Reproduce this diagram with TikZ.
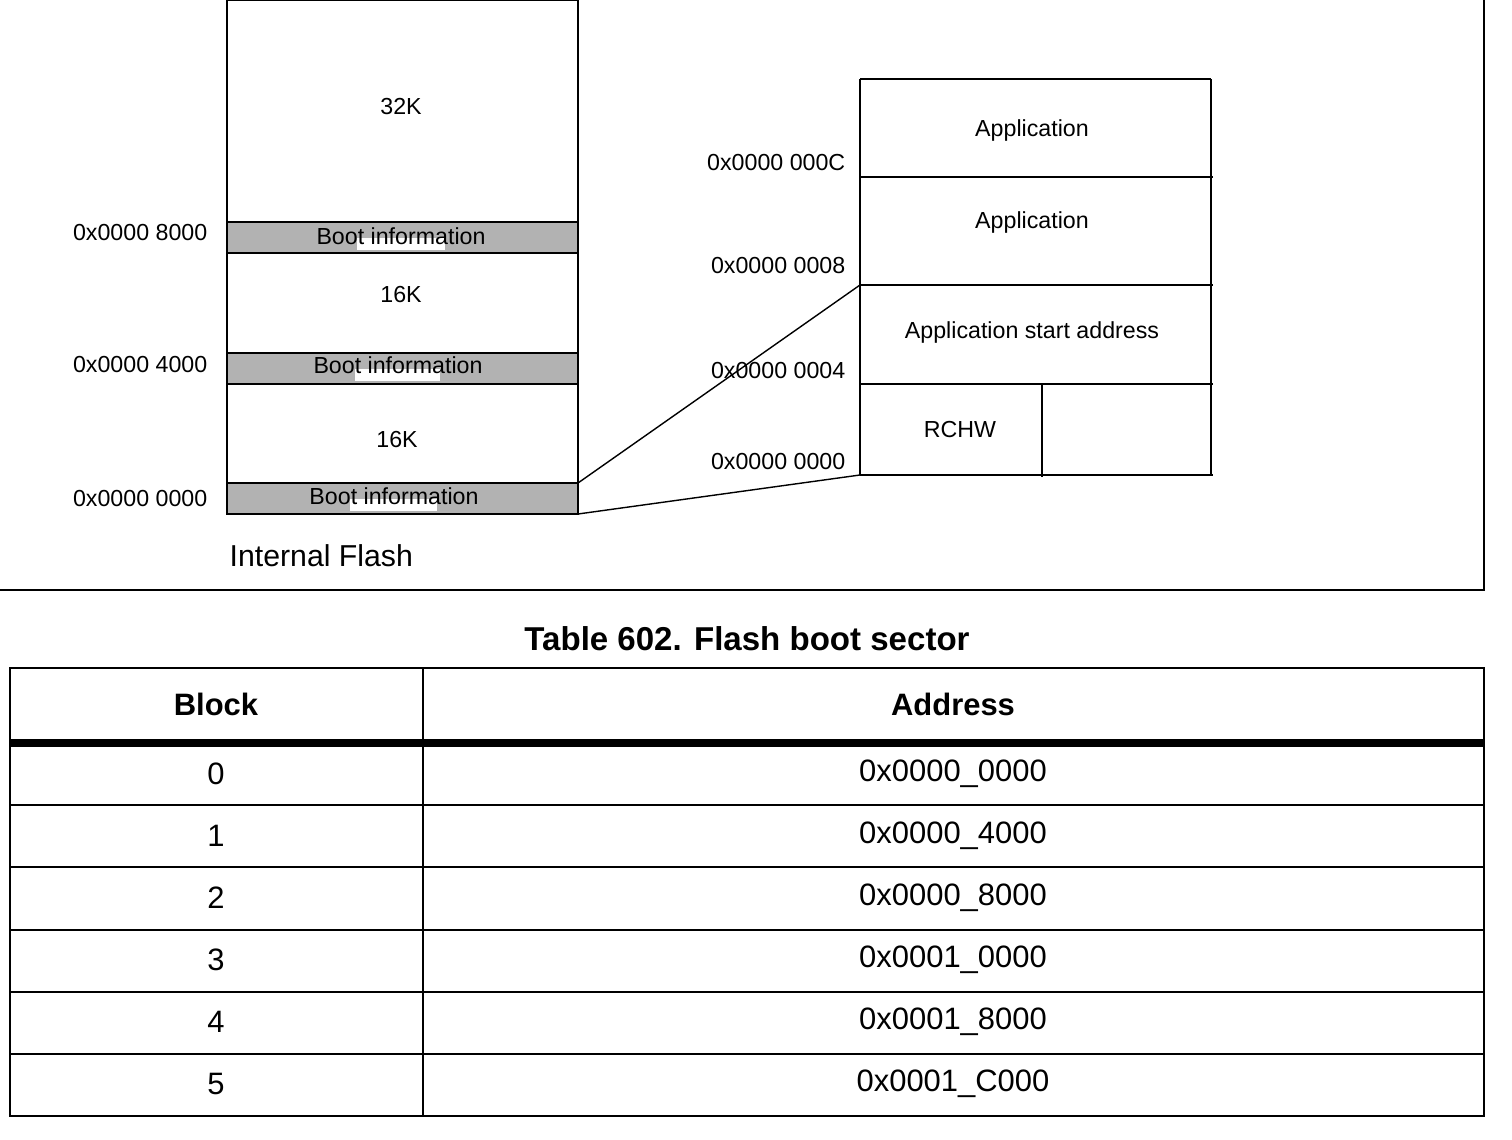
\documentclass[tikz,border=0pt]{standalone}
\usepackage{fontspec}
\setmainfont{Liberation Sans}
\begin{document}
\begin{tikzpicture}[x=0.01cm,y=-0.01cm,
	small text/.style={font=\fontsize{6.6}{8}\selectfont,inner sep=0pt},
	addr text/.style={small text,anchor=east},
	band/.style={fill=gray!60,draw,thick},
	cell text/.style={font=\fontsize{8.8}{10}\selectfont,inner sep=0pt}
]
	\useasboundingbox (0,0) rectangle (1512,1140);

	% frame
	\draw (1484,0) -- (1484,590) -- (0,590);

	% internal flash
	\draw[thick] (227,0) -- (227,514) -- (578,514) -- (578,0);
	\draw (227,0) -- (578,0);
	\foreach \t/\b in {222/253,353/384,483/514} {
		\draw[band] (227,\t) rectangle (578,\b);
	}
	\fill[white] (357,238) rectangle (445,250);
	\fill[white] (355,369) rectangle (440,381);
	\fill[white] (350,499) rectangle (437,511);
	\node[small text] (b2) at (401,236) {Boot information};
	\node[small text] (b1) at (398,365) {Boot information};
	\node[small text] (b0) at (394,496) {Boot information};
	\node[small text] (s32) at (401,107) {32K};
	\node[small text] (s16a) at (401,295) {16K};
	\node[small text] (s16b) at (397,440) {16K};
	\node[addr text] (a8) at (208,233) {0x0000 8000};
	\node[addr text] (a4) at (208,365) {0x0000 4000};
	\node[addr text] (a0) at (208,499) {0x0000 0000};
	\node[font=\fontsize{8.6}{10}\selectfont,inner sep=0pt,anchor=west] (flash) at (229,556) {Internal Flash};

	% boot sector detail
	\draw[thick] (860,79) -- (860,475);
	\draw[thick] (1211,79) -- (1211,475);
	\draw (860,79) -- (1211,79);
	\foreach \y in {177,285,384,475} {
		\draw (860,\y) -- (1213,\y);
	}
	\draw (1042,384) -- (1042,477);
	\node[small text] (app1) at (1032,131) {Application};
	\node[small text] (app2) at (1032,223) {Application};
	\node[small text] (start) at (1032,333) {Application start address};
	\node[small text] (rchw) at (960,430) {RCHW};
	\node[addr text] (oc) at (846,163) {0x0000 000C};
	\node[addr text] (o8) at (846,266) {0x0000 0008};
	\node[addr text] (o4) at (846,371) {0x0000 0004};
	\node[addr text] (o0) at (846,462) {0x0000 0000};
	\coordinate (z1) at (578,483);
	\coordinate (z2) at (578,514);
	\coordinate (z3) at (860,285);
	\coordinate (z4) at (860,475);
	\draw (z1) -- (z3);
	\draw (z2) -- (z4);

	% table
	\node[font=\bfseries\fontsize{9.4}{11}\selectfont,inner sep=0pt] (title) at (747,639) {Table 602. Flash boot sector};
	\draw (10,668) rectangle (1484,1116);
	\draw (423,668) -- (423,1116);
	\draw[line width=2.5pt] (10,743) -- (1484,743);
	\foreach \y in {805,867,930,992,1054} {
		\draw (10,\y) -- (1484,\y);
	}
	\node[cell text,font=\bfseries\fontsize{8.8}{10}\selectfont] (hb) at (216,704) {Block};
	\node[cell text,font=\bfseries\fontsize{8.8}{10}\selectfont] (ha) at (953,704) {Address};
	\foreach \i/\a/\y in {0/0x0000\_0000/774,1/0x0000\_4000/836,2/0x0000\_8000/898,3/0x0001\_0000/960,4/0x0001\_8000/1022,5/0x0001\_C000/1084} {
		\node[cell text] (blk\i) at (216,\y) {\i};
		\node[cell text] (adr\i) at (953,\y) {\a};
	}
\end{tikzpicture}
\end{document}
